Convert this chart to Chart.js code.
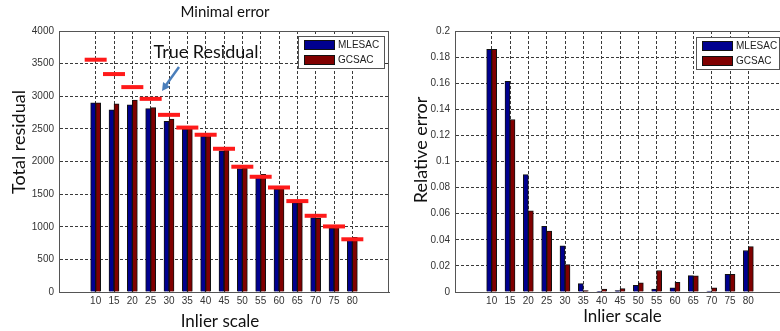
<!DOCTYPE html>
<html><head><meta charset="utf-8">
<script src="https://cdn.jsdelivr.net/npm/chart.js@4/dist/chart.umd.min.js"></script>
<style>
html,body{margin:0;padding:0;background:#fff;}
#wrap{position:relative;width:780px;height:331px;overflow:hidden;background:#fff;}
#c1{position:absolute;left:0;top:0;}
#c2{position:absolute;left:390px;top:0;}
</style></head><body>
<div id="wrap">
<canvas id="c1" width="390" height="331" style="width:390px;height:331px"></canvas>
<canvas id="c2" width="400" height="331" style="width:400px;height:331px"></canvas>
</div>
<script>
// ---------- data ----------
const categories = [10,15,20,25,30,35,40,45,50,55,60,65,70,75,80];
const seriesNames = ['MLESAC','GCSAC'];
const residualMLESAC = [2900,2790,2870,2810,2615,2495,2385,2165,1890,1760,1575,1370,1140,980,795];
const residualGCSAC  = [2900,2885,2940,2825,2650,2500,2400,2180,1895,1805,1580,1370,1130,990,838];
const trueResidual   = [3560,3340,3140,2960,2715,2520,2410,2195,1920,1766,1602,1393,1168,1005,808];
const relErrMLESAC = [0.186,0.1615,0.090,0.0503,0.0354,0.0064,0.0005,0.0010,0.0052,0.0023,0.0032,0.0125,0.0007,0.0135,0.0318];
const relErrGCSAC  = [0.186,0.1322,0.0622,0.0466,0.0210,0.0010,0.0022,0.0026,0.0070,0.0165,0.0074,0.0124,0.0031,0.0135,0.0348];
const residualTicks = [0,500,1000,1500,2000,2500,3000,3500,4000];
const residualTickLabels = ['0','500','1000','1500','2000','2500','3000','3500','4000'];
const relErrTicks = [0,0.02,0.04,0.06,0.08,0.1,0.12,0.14,0.16,0.18,0.2];
const relErrTickLabels = ['0','0.02','0.04','0.06','0.08','0.1','0.12','0.14','0.16','0.18','0.2'];

const BLUE = 'rgb(0,0,143)';
const DARKRED = 'rgb(128,0,0)';
const EDGE = '#111';

function pts(vals){ return categories.map((c,i)=>({x:c,y:vals[i]})); }

function makeScales(yMax, yTickVals, yLabels, yWidth){
  return {
    x: {
      type:'linear', min:0, max:90, offset:false,
      grid:{offset:false, color:'#3a3a3a', lineWidth:1, drawTicks:false},
      border:{display:true, color:'#555', width:1, dash:[3,2]},
      ticks:{font:{family:'Liberation Sans', size:10}, color:'#333', padding:3, maxRotation:0, autoSkip:false},
      afterBuildTicks: a => { a.ticks = categories.map(v=>({value:v})); },
      afterFit: a => { a.height = 39; }
    },
    y: {
      type:'linear', min:0, max:yMax,
      grid:{color:'#3a3a3a', lineWidth:1, drawTicks:false},
      border:{display:true, color:'#555', width:1, dash:[3,2]},
      ticks:{font:{family:'Liberation Sans', size:10}, color:'#333', padding:5,
             callback:(v,i)=>yLabels[i]},
      afterBuildTicks: a => { a.ticks = yTickVals.map(v=>({value:v})); },
      afterFit: a => { a.width = yWidth; }
    }
  };
}

function framePlugin(){
  return { id:'frame', afterDatasetsDraw(chart){
    const {ctx, chartArea:a} = chart;
    ctx.save();
    ctx.strokeStyle = '#555'; ctx.lineWidth = 1;
    ctx.strokeRect(Math.round(a.left)+0.5, Math.round(a.top)+0.5, Math.round(a.right-a.left)-1, Math.round(a.bottom-a.top));
    ctx.restore();
  }};
}

function legendPlugin(bx, by, bw, bh){
  return { id:'mleg', afterDraw(chart){
    const ctx = chart.ctx;
    ctx.save();
    ctx.fillStyle = '#fff';
    ctx.fillRect(bx, by, bw, bh);
    ctx.strokeStyle = '#555'; ctx.lineWidth = 1;
    ctx.strokeRect(bx+0.5, by+0.5, bw-1, bh-1);
    const ds = chart.data.datasets.filter(d => seriesNames.includes(d.label));
    ds.forEach((d,i) => {
      const sy = by + 4 + i*15;
      ctx.fillStyle = d.backgroundColor;
      ctx.fillRect(bx+6, sy, 31, 10);
      ctx.strokeStyle = EDGE;
      ctx.strokeRect(bx+6.5, sy+0.5, 30, 9);
      ctx.fillStyle = '#222';
      ctx.font = '10px "Liberation Sans"';
      ctx.textBaseline = 'middle';
      ctx.textAlign = 'left';
      ctx.fillText(d.label, bx+40, sy+5.5);
    });
    ctx.restore();
  }};
}

function textPlugin(items, extra){
  return { id:'texts', afterDraw(chart){
    const ctx = chart.ctx;
    ctx.save();
    items.forEach(t => {
      ctx.save();
      ctx.font = t.font;
      ctx.fillStyle = t.color || '#111';
      ctx.textAlign = 'center';
      ctx.textBaseline = 'alphabetic';
      ctx.translate(t.x, t.y);
      if (t.rot) ctx.rotate(t.rot);
      ctx.fillText(t.text, 0, 0);
      ctx.restore();
    });
    if (extra) extra(ctx);
    ctx.restore();
  }};
}

function drawArrow(ctx){
  const x1=179, y1=67, x2=162, y2=91;
  ctx.strokeStyle = '#4a7ebb'; ctx.fillStyle = '#4a7ebb';
  ctx.lineWidth = 2.5;
  ctx.beginPath(); ctx.moveTo(x1,y1); ctx.lineTo(x2+3,y2-4.5); ctx.stroke();
  const ang = Math.atan2(y2-y1, x2-x1);
  const L = 9, W = 0.5;
  ctx.beginPath();
  ctx.moveTo(x2,y2);
  ctx.lineTo(x2 - L*Math.cos(ang-W), y2 - L*Math.sin(ang-W));
  ctx.lineTo(x2 - L*Math.cos(ang+W), y2 - L*Math.sin(ang+W));
  ctx.closePath(); ctx.fill();
}

const common = {
  responsive:false, animation:false,
  plugins:{legend:{display:false}, tooltip:{enabled:false}, title:{display:false}},
};

// ---------- left chart ----------
new Chart(document.getElementById('c1'), {
  data:{ datasets:[
    { type:'line', label:'True Residual', data:pts(trueResidual), showLine:false, order:0, clip:false,
      pointStyle:'line', pointRadius:11, pointBorderWidth:4, pointBorderColor:'#ff1a1a', pointBackgroundColor:'#ff1a1a' },
    { type:'bar', label:seriesNames[0], data:pts(residualMLESAC), backgroundColor:BLUE, borderColor:EDGE, borderWidth:1, barThickness:5, order:1 },
    { type:'bar', label:seriesNames[1], data:pts(residualGCSAC), backgroundColor:DARKRED, borderColor:EDGE, borderWidth:1, barThickness:5, order:1 }
  ]},
  options:Object.assign({}, common, {
    layout:{autoPadding:false, padding:{left:0,right:1,top:31,bottom:0}},
    scales: makeScales(4000, residualTicks, residualTickLabels, 59)
  }),
  plugins:[framePlugin(), legendPlugin(298,36,87,33), textPlugin([
    {text:'Minimal error', x:225, y:17, font:'15px Lato'},
    {text:'True Residual', x:206, y:58, font:'18px Lato'},
    {text:'Total residual', x:25, y:142, font:'18px Lato', rot:-Math.PI/2},
    {text:'Inlier scale', x:220, y:326.5, font:'17px Lato'}
  ], drawArrow)]
});

// ---------- right chart ----------
new Chart(document.getElementById('c2'), {
  data:{ datasets:[
    { type:'bar', label:seriesNames[0], data:pts(relErrMLESAC), backgroundColor:BLUE, borderColor:EDGE, borderWidth:1, barThickness:5 },
    { type:'bar', label:seriesNames[1], data:pts(relErrGCSAC), backgroundColor:DARKRED, borderColor:EDGE, borderWidth:1, barThickness:5 }
  ]},
  options:Object.assign({}, common, {
    layout:{autoPadding:false, padding:{left:0,right:5,top:31,bottom:0}},
    scales: makeScales(0.2, relErrTicks, relErrTickLabels, 65)
  }),
  plugins:[framePlugin(), legendPlugin(306,37,84,33), textPlugin([
    {text:'Relative error', x:37, y:150, font:'18px Lato', rot:-Math.PI/2},
    {text:'Inlier scale', x:232.5, y:321.5, font:'17px Lato'}
  ])]
});
</script>
</body></html>
